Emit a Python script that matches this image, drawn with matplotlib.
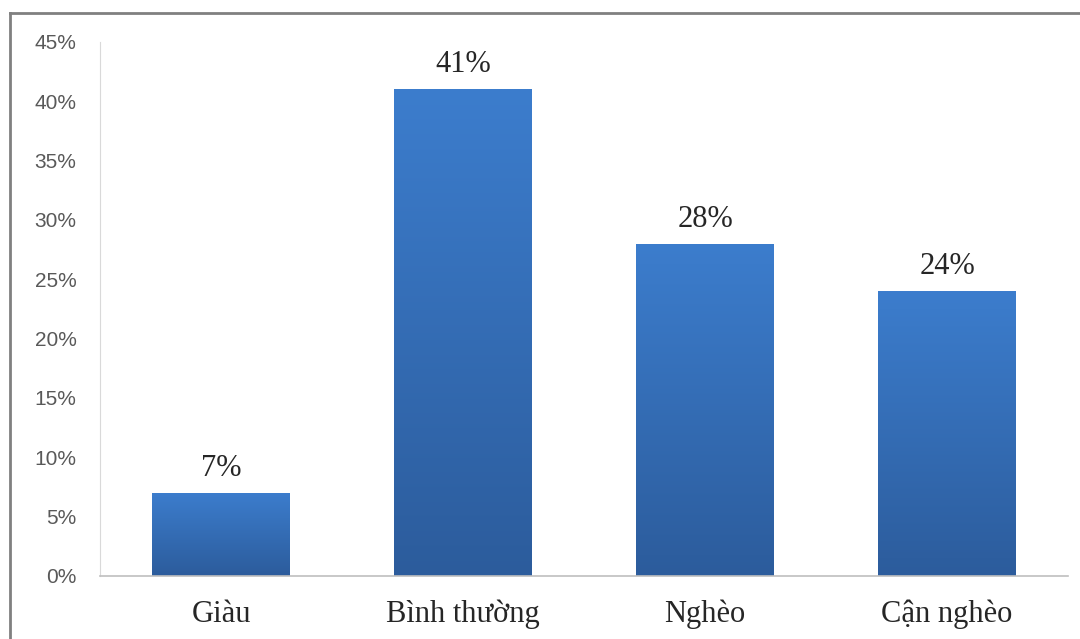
import matplotlib.pyplot as plt
import matplotlib.lines as mlines
from matplotlib.colors import LinearSegmentedColormap
import numpy as np

categories = ['Giàu', 'Bình thường', 'Nghèo', 'Cận nghèo']
values = [7, 41, 28, 24]
value_labels = ['7%', '41%', '28%', '24%']
yticks = [0, 5, 10, 15, 20, 25, 30, 35, 40, 45]

plt.rcParams['font.family'] = ['Liberation Sans', 'DejaVu Sans']

fig = plt.figure(figsize=(10.8, 6.39), dpi=100)
ax = fig.add_axes([0.0926, 0.0986, 0.8963, 0.8357])

# gradient for the bars: lighter at top, darker at bottom
cmap = LinearSegmentedColormap.from_list('barblue', ['#2c5c9c', '#3c7dcd'])
grad = np.linspace(0, 1, 256).reshape(-1, 1)

bars = ax.bar(range(len(categories)), values, width=0.57, color='none', edgecolor='none')
for b in bars:
    x0 = b.get_x()
    w = b.get_width()
    h = b.get_height()
    im = ax.imshow(grad, cmap=cmap, aspect='auto', origin='lower',
                   extent=[x0, x0 + w, 0, h], zorder=2)
    im.set_clip_path(b)

for i, v in enumerate(values):
    ax.text(i, v + 0.85, value_labels[i], ha='center', va='bottom',
            fontsize=22, family='Liberation Serif', color='#262626')

ax.set_xlim(-0.5, len(categories) - 0.5)
ax.set_ylim(0, 45)
ax.set_yticks(yticks)
ax.set_yticklabels([str(t) + '%' for t in yticks], fontsize=15, color='#595959')
ax.set_xticks(range(len(categories)))
ax.set_xticklabels(categories, fontsize=22, family='Liberation Serif', color='#262626')
ax.tick_params(axis='y', length=0, pad=17)
ax.tick_params(axis='x', length=0, pad=17)

for s in ['top', 'right']:
    ax.spines[s].set_visible(False)
ax.spines['left'].set_color('#d9d9d9')
ax.spines['bottom'].set_color('#bfbfbf')
ax.spines['bottom'].set_linewidth(1.2)

# outer frame (only top and left edges show in the picture)
fig.add_artist(mlines.Line2D([0.0093, 1.0], [0.9797, 0.9797], color='#808080', lw=2))
fig.add_artist(mlines.Line2D([0.0093, 0.0093], [0.0, 0.9797], color='#808080', lw=2))

plt.savefig('out.png', dpi=100)
